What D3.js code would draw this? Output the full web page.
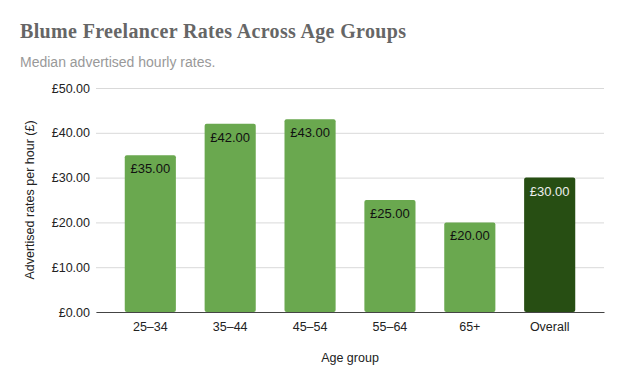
<!DOCTYPE html>
<html>
<head>
<meta charset="utf-8">
<script src="https://cdn.jsdelivr.net/npm/d3@7/dist/d3.min.js"></script>
<style>
  body { margin: 0; background: #fff; }
  text { font-family: "Liberation Sans", Arial, sans-serif; }
</style>
</head>
<body>
<div id="chart"></div>
<script>
// data
var groups = ["25–34", "35–44", "45–54", "55–64", "65+", "Overall"];
var rates = [35, 42, 43, 25, 20, 30];
var yTicks = [0, 10, 20, 30, 40, 50];

var width = 624, height = 385;
var plotLeft = 96, plotRight = 604, plotTop = 88, plotBottom = 312;

var svg = d3.select("#chart").append("svg")
    .attr("width", width)
    .attr("height", height);

var x = d3.scaleBand()
    .domain(groups)
    .range([plotLeft, plotRight])
    .padding(0.36);

var y = d3.scaleLinear()
    .domain([0, 50])
    .range([plotBottom, plotTop]);

var fmt = function (v) { return "£" + d3.format(".2f")(v); };

// gridlines + y labels
var yAxis = d3.axisLeft(y)
    .tickValues(yTicks)
    .tickSize(-(plotRight - plotLeft))
    .tickPadding(6)
    .tickFormat(fmt);

var gy = svg.append("g")
    .attr("transform", "translate(" + plotLeft + ",0)")
    .call(yAxis);
gy.select(".domain").remove();
gy.selectAll(".tick line").attr("stroke", "#d9d9d9").attr("stroke-width", 1);
gy.selectAll(".tick text")
    .attr("fill", "#222")
    .style("font-size", "12.5px");

// bars
svg.append("g").selectAll("rect")
    .data(rates)
    .enter()
    .append("rect")
    .attr("x", function (d, i) { return x(groups[i]); })
    .attr("y", function (d) { return y(d); })
    .attr("width", x.bandwidth())
    .attr("height", function (d) { return plotBottom - y(d); })
    .attr("rx", 2)
    .attr("fill", function (d, i) { return groups[i] == "Overall" ? "#274e13" : "#6aa84f"; });

// value labels inside bars
svg.append("g").selectAll("text")
    .data(rates)
    .enter()
    .append("text")
    .attr("x", function (d, i) { return x(groups[i]) + x.bandwidth() / 2; })
    .attr("y", function (d) { return y(d) + 18; })
    .attr("text-anchor", "middle")
    .style("font-size", "13px")
    .attr("fill", function (d, i) { return groups[i] == "Overall" ? "#eeeeee" : "#111"; })
    .text(fmt);

// x axis
var gx = svg.append("g")
    .attr("transform", "translate(0," + plotBottom + ")")
    .call(d3.axisBottom(x).tickSize(0).tickPadding(10));
gx.select(".domain").attr("stroke", "#444").attr("stroke-width", 1);
gx.selectAll(".tick text")
    .attr("fill", "#222")
    .style("font-size", "12.5px");

// axis titles
svg.append("text")
    .attr("x", 350)
    .attr("y", 362)
    .attr("text-anchor", "middle")
    .attr("fill", "#222")
    .style("font-size", "12.5px")
    .text("Age group");

svg.append("text")
    .attr("transform", "translate(34,200) rotate(-90)")
    .attr("text-anchor", "middle")
    .attr("fill", "#222")
    .style("font-size", "12.5px")
    .text("Advertised rates per hour (£)");

// title + subtitle
svg.append("text")
    .attr("x", 20)
    .attr("y", 38)
    .attr("fill", "#666")
    .attr("textLength", 386)
    .attr("lengthAdjust", "spacing")
    .style("font-family", "'Liberation Serif', serif")
    .style("font-weight", "bold")
    .style("font-size", "20px")
    .text("Blume Freelancer Rates Across Age Groups");

svg.append("text")
    .attr("x", 20)
    .attr("y", 67)
    .attr("fill", "#999")
    .style("font-size", "14px")
    .text("Median advertised hourly rates.");
</script>
</body>
</html>
